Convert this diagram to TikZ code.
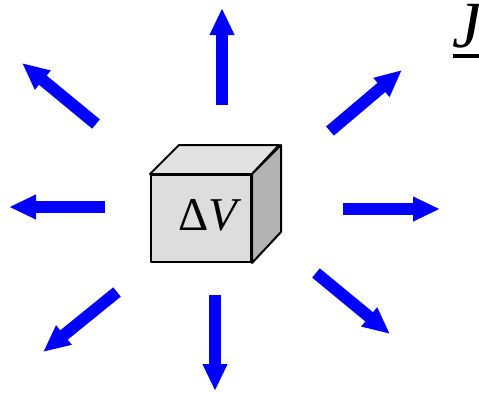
\documentclass[tikz,border=0pt]{standalone}
\usepackage{fontspec}
\setmainfont{Liberation Serif}
\usepackage{xcolor}
\usetikzlibrary{arrows.meta}

\definecolor{fluxblue}{RGB}{0,0,255}
\definecolor{facegray}{RGB}{221,221,221}
\definecolor{topgray}{RGB}{226,226,226}
\definecolor{sidegray}{RGB}{179,179,179}

\tikzset{
  flux/.style={fluxblue, line width=12pt, -{Triangle[length=27pt,width=23pt]}},
  edge/.style={draw=black, line width=2pt, line join=round}
}

\begin{document}
\begin{tikzpicture}[x=1pt,y=-1pt]
    \useasboundingbox (0,0) rectangle (479,392);

    % volume element
    \node[edge, fill=facegray, minimum width=100pt, minimum height=87pt, inner sep=0pt] (cube) at (201,218.5) {};
    \filldraw[edge, fill=topgray] (cube.north west) -- ++(29,-29) -- ++(100,0) -- (cube.north east) -- cycle;
    \filldraw[edge, fill=sidegray] (cube.north east) -- ++(29,-29) -- ++(0,87) -- (cube.south east) -- cycle;
    \node[font=\fontsize{47}{56}\selectfont] (dv) at (210,215) {Δ\textit{V}};

    % flux label
    \node[font=\fontsize{66}{76}\selectfont, anchor=base west, inner sep=0pt] (jlabel) at (452,47) {\textit{J}};
    \draw[black, line width=4pt] (453,56) -- (485,56);

    % outward arrows
    \coordinate (n0) at (222,105);  \coordinate (n1) at (222,8);
    \coordinate (ne0) at (330,131); \coordinate (ne1) at (402,70);
    \coordinate (e0) at (343,209);  \coordinate (e1) at (440,209);
    \coordinate (se0) at (316,273); \coordinate (se1) at (390,334);
    \coordinate (s0) at (215,295);  \coordinate (s1) at (215,391);
    \coordinate (sw0) at (117,292); \coordinate (sw1) at (43,352);
    \coordinate (w0) at (105,207);  \coordinate (w1) at (9,207);
    \coordinate (nw0) at (96,124);  \coordinate (nw1) at (22,63);

    \draw[flux] (n0) -- (n1);
    \draw[flux] (ne0) -- (ne1);
    \draw[flux] (e0) -- (e1);
    \draw[flux] (se0) -- (se1);
    \draw[flux] (s0) -- (s1);
    \draw[flux] (sw0) -- (sw1);
    \draw[flux] (w0) -- (w1);
    \draw[flux] (nw0) -- (nw1);
\end{tikzpicture}
\end{document}
